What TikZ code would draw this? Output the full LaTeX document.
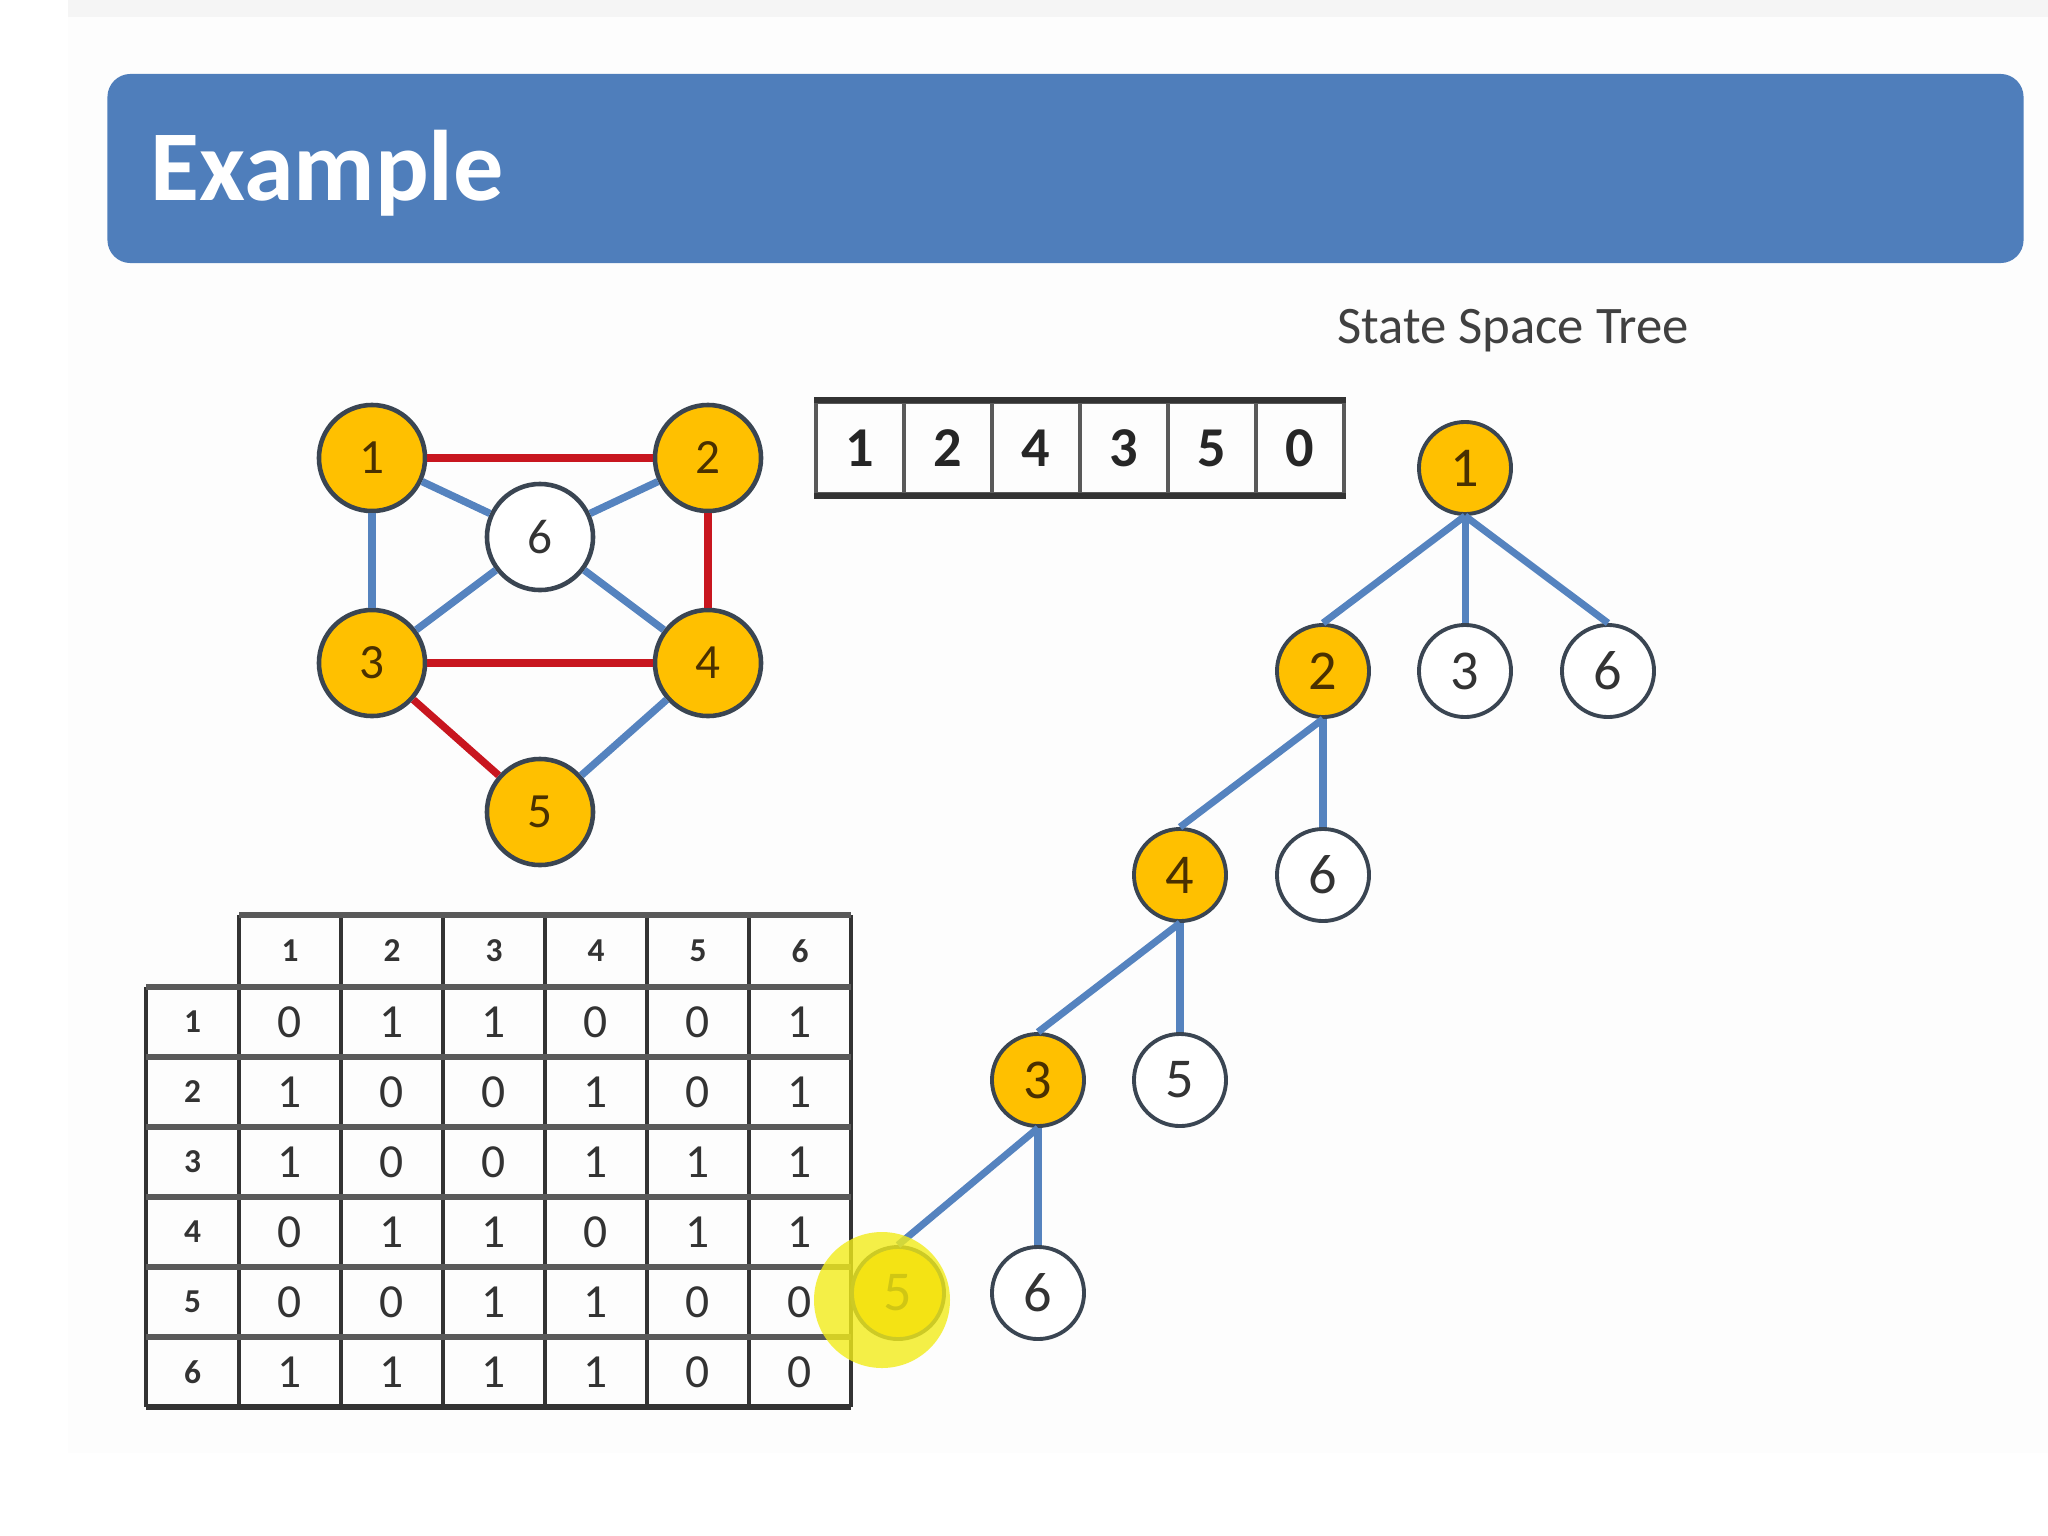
\documentclass[tikz,border=0pt]{standalone}
\usepackage{fontspec}
\setmainfont{Carlito}
\usetikzlibrary{positioning}

\definecolor{barblue}{HTML}{4F7EBB}
\definecolor{gold}{HTML}{FFC000}
\definecolor{rimgray}{HTML}{3A4552}
\definecolor{edgeblue}{HTML}{5583BF}
\definecolor{edgered}{HTML}{C8161F}
\definecolor{brown}{HTML}{4A3000}
\definecolor{inkgray}{HTML}{333333}
\definecolor{hilite}{HTML}{F2EC1A}

\begin{document}
\begin{tikzpicture}[
x=0.01cm, y=-0.01cm,
vtx/.style={circle, draw=rimgray, line width=1.3pt, fill=white, minimum size=1.06cm, inner sep=0pt, text=inkgray, font=\fontsize{14}{14}\selectfont},
tnode/.style={circle, draw=rimgray, line width=1.1pt, fill=white, minimum size=0.92cm, inner sep=0pt, text=inkgray, font=\fontsize{16}{16}\selectfont},
done/.style={fill=gold, text=brown},
redge/.style={edgered, line width=2.1pt},
bedge/.style={edgeblue, line width=2.1pt},
tedge/.style={edgeblue, line width=2pt},
slot/.style={draw=black!65, line width=1pt, minimum width=0.88cm, minimum height=0.92cm, inner sep=0pt, font=\bfseries\fontsize{16}{16}\selectfont, text=black!85},
rule/.style={black!80, line width=1.7pt},
cellnum/.style={inner sep=0pt, text=inkgray, font=\fontsize{13.5}{14}\selectfont},
headnum/.style={inner sep=0pt, text=inkgray, font=\bfseries\fontsize{9.5}{10}\selectfont},
gridv/.style={black!80, line width=1.2pt},
gridh/.style={black!65, line width=1.5pt}
]
\useasboundingbox (0,0) rectangle (2048,1536);
\fill[white] (0,0) rectangle (2048,1536);
\fill[black!4] (68,0) rectangle (2048,17);
\fill[black!0.6] (68,17) rectangle (2048,1453);

% title bar
\node[fill=barblue, rounded corners=0.23cm, minimum width=19.15cm, minimum height=1.89cm, inner sep=0pt] (bar) at (1065.5,168.5) {};
\node[anchor=base west, inner sep=0pt, text=white, font=\bfseries\fontsize{28.5}{30}\selectfont] (bartext) at (150,200) {Example};

\node[anchor=base, inner sep=0pt, text=black!75, font=\fontsize{15}{18}\selectfont] (treetitle) at (1513,343) {State Space Tree};

% graph
\node[vtx, done] (g1) at (372,458) {1};
\node[vtx, done] (g2) at (708,458) {2};
\node[vtx] (g6) at (540,537) {6};
\node[vtx, done] (g3) at (372,663) {3};
\node[vtx, done] (g4) at (708,663) {4};
\node[vtx, done] (g5) at (540,812) {5};

\draw[redge] (g1) -- (g2);
\draw[redge] (g2) -- (g4);
\draw[redge] (g3) -- (g4);
\draw[redge] (g3) -- (g5);
\draw[bedge] (g1) -- (g3);
\draw[bedge] (g1) -- (g6);
\draw[bedge] (g2) -- (g6);
\draw[bedge] (g3) -- (g6);
\draw[bedge] (g4) -- (g6);
\draw[bedge] (g4) -- (g5);

% solution array
\foreach \v [count=\i] in {1,2,4,3,5,0}
  \node[slot] (a\i) at ({816+88*\i-44},448) {\v};
\draw[rule] (a1.north west) -- (a6.north east);
\draw[rule] (a1.south west) -- (a6.south east);

% adjacency matrix
\foreach \c in {1,...,6}
  \node[headnum] (h\c) at ({239+102*\c-51},951) {\c};
\foreach \r/\vals in {1/{0,1,1,0,0,1}, 2/{1,0,0,1,0,1}, 3/{1,0,0,1,1,1}, 4/{0,1,1,0,1,1}, 5/{0,0,1,1,0,0}, 6/{1,1,1,1,0,0}} {
  \node[headnum] (r\r) at (192.5,{987+70*\r-35}) {\r};
  \foreach \v [count=\c] in \vals
    \node[cellnum] (m\r\c) at ({239+102*\c-51},{987+70*\r-35}) {\v};
}
\foreach \k in {0,...,6}
  \draw[gridv] ({239+102*\k},915) -- ({239+102*\k},1407);
\draw[gridv] (146,987) -- (146,1407);
\draw[gridh] (239,915) -- (851,915);
\foreach \k in {0,...,5}
  \draw[gridh] (146,{987+70*\k}) -- (851,{987+70*\k});
\draw[rule] (146,1407) -- (851,1407);

% state space tree
\node[tnode, done] (t1) at (1465,468) {1};
\node[tnode, done] (t12) at (1323,671) {2};
\node[tnode] (t13) at (1465,671) {3};
\node[tnode] (t16) at (1608,671) {6};
\node[tnode, done] (t124) at (1180,875) {4};
\node[tnode] (t126) at (1323,875) {6};
\node[tnode, done] (t1243) at (1038,1080) {3};
\node[tnode] (t1245) at (1180,1080) {5};
\node[tnode, done] (t12435) at (898,1293) {5};
\node[tnode] (t12436) at (1038,1293) {6};

\draw[tedge] (t1.south) -- (t12.north);
\draw[tedge] (t1.south) -- (t13.north);
\draw[tedge] (t1.south) -- (t16.north);
\draw[tedge] (t12.south) -- (t124.north);
\draw[tedge] (t12.south) -- (t126.north);
\draw[tedge] (t124.south) -- (t1243.north);
\draw[tedge] (t124.south) -- (t1245.north);
\draw[tedge] (t1243.south) -- (t12435.north);
\draw[tedge] (t1243.south) -- (t12436.north);

% pointer highlight
\fill[hilite, opacity=0.8] (882,1300) circle[radius=68];

\end{tikzpicture}
\end{document}
